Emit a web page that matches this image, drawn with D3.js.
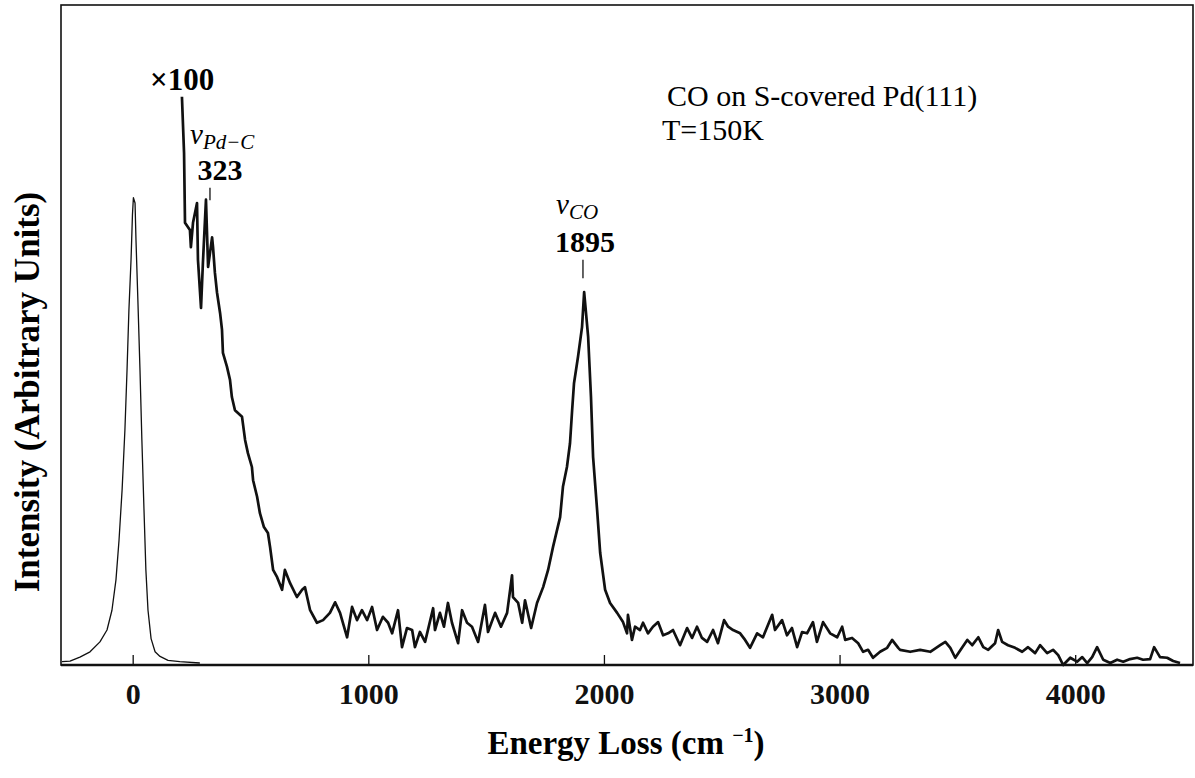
<!DOCTYPE html>
<html>
<head>
<meta charset="utf-8">
<script src="https://cdn.jsdelivr.net/npm/d3@7"></script>
<style>
  body { margin: 0; background: #fff; }
  svg { display: block; }
</style>
</head>
<body>
<div id="chart"></div>
<script>
// energy axis (cm^-1) and ticks
var energyDomain = [-300, 4500];
var xTicks = [0, 1000, 2000, 3000, 4000];

// elastic peak, x1
var elasticE = [-300, -266, -224, -181, -139, -109, -88, -71, -58, -45, -33, -24, -16, -7, -1, 3,
    10, 14, 22, 31, 39, 48, 56, 65, 78, 95, 116, 150, 200, 285];
var elasticI = [0.5, 0.6, 1.2, 2.0, 3.5, 5.3, 8.3, 12.9, 18.9, 26.5, 35.6, 44.7, 53.8, 61.4, 68.2, 70.8,
    70.0, 64.4, 55.3, 44.7, 34.1, 23.5, 14.4, 8.3, 4.0, 2.0, 1.3, 0.7, 0.5, 0.3];

// loss spectrum, x100
var lossE = [209, 218, 222, 243, 247, 256, 273, 277, 290, 298, 311, 320, 337, 341, 349, 358, 371, 379,
    383, 400, 413, 421, 434, 464, 477, 489, 506, 511, 528, 540, 557, 574, 583, 596, 613, 634, 646, 668,
    697, 719, 731, 753, 782, 808, 837, 859, 880, 910, 931, 952, 973, 995, 1016, 1037, 1062, 1084, 1101,
    1126, 1143, 1164, 1186, 1198, 1219, 1241, 1275, 1283, 1304, 1321, 1338, 1355, 1381, 1398, 1419,
    1440, 1466, 1495, 1508, 1538, 1563, 1589, 1610, 1614, 1636, 1653, 1665, 1691, 1716, 1742, 1763,
    1784, 1814, 1826, 1843, 1856, 1865, 1873, 1890, 1907, 1916, 1933, 1945, 1954, 1971, 1984, 2005,
    2026, 2056, 2081, 2098, 2102, 2119, 2132, 2153, 2166, 2187, 2208, 2230, 2251, 2272, 2293, 2323,
    2353, 2374, 2395, 2416, 2438, 2463, 2484, 2510, 2527, 2548, 2578, 2599, 2620, 2650, 2675, 2714,
    2726, 2756, 2777, 2798, 2820, 2841, 2862, 2887, 2904, 2930, 2960, 2990, 3011, 3024, 3053, 3079,
    3100, 3121, 3142, 3172, 3202, 3223, 3249, 3257, 3300, 3342, 3385, 3427, 3449, 3470, 3491, 3521,
    3542, 3563, 3589, 3610, 3631, 3660, 3673, 3690, 3715, 3745, 3775, 3800, 3830, 3851, 3881, 3906,
    3928, 3949, 3979, 4008, 4030, 4051, 4072, 4093, 4119, 4149, 4178, 4204, 4233, 4263, 4288, 4318,
    4335, 4360, 4390, 4416, 4445];
var lossI = [86.1, 77.6, 67.0, 65.9, 63.3, 67.0, 70.0, 61.4, 54.1, 60.9, 70.5, 60.3, 64.8, 63.3, 59.4,
    56.4, 53.3, 50.8, 47.3, 45.2, 43.2, 40.6, 38.6, 37.6, 34.1, 32.1, 30.0, 28.0, 25.5, 23.0, 20.9, 20.0,
    17.9, 14.4, 13.3, 11.4, 14.4, 12.4, 10.3, 11.4, 11.8, 8.3, 6.4, 6.8, 7.9, 9.5, 7.9, 4.2, 8.8, 6.8,
    8.3, 6.8, 8.8, 5.3, 7.3, 6.4, 4.8, 8.3, 2.7, 5.6, 5.3, 2.7, 5.0, 3.5, 8.6, 5.3, 7.9, 5.8, 9.4, 6.4,
    3.3, 8.3, 6.4, 5.8, 3.5, 9.1, 5.0, 7.9, 5.8, 7.9, 13.6, 10.3, 9.4, 6.4, 9.8, 5.6, 9.4, 11.8, 14.4,
    17.9, 22.4, 27.0, 30.0, 33.6, 38.6, 42.7, 46.7, 51.2, 56.5, 49.7, 40.6, 31.5, 23.5, 17.0, 11.4,
    9.4, 7.9, 6.5, 4.8, 7.6, 3.8, 5.8, 5.3, 6.4, 4.8, 5.8, 6.5, 4.5, 4.8, 5.3, 3.0, 5.6, 4.1, 5.8, 4.1,
    3.5, 5.3, 3.3, 6.8, 5.8, 5.3, 4.8, 3.8, 2.6, 4.8, 4.2, 7.6, 5.3, 6.8, 4.5, 5.6, 2.7, 5.0, 4.8, 6.5,
    3.5, 6.5, 4.8, 4.2, 5.8, 3.8, 4.1, 3.3, 2.0, 2.3, 1.1, 2.0, 2.6, 3.8, 2.6, 2.3, 2.0, 2.3, 2.0, 3.0,
    3.5, 2.6, 1.1, 2.7, 3.8, 3.0, 4.2, 2.7, 2.3, 3.3, 5.3, 3.5, 3.0, 2.6, 2.0, 2.7, 1.8, 3.0, 1.8, 2.3,
    1.5, 0.0, 1.1, 0.5, 1.2, 0.3, 1.2, 2.7, 0.8, 0.3, 0.8, 0.5, 0.9, 1.1, 0.8, 0.9, 2.7, 1.2, 1.1, 0.6,
    0.3];

var width = 1195,
    height = 778;

var serif = "'Liberation Serif', 'Times New Roman', serif";

var svg = d3.select("#chart")
    .append("svg")
    .attr("width", width)
    .attr("height", height);

var x = d3.scaleLinear().domain(energyDomain).range([62, 1193]);
var y = d3.scaleLinear().domain([0, 100]).range([665, 5]);

// frame
svg.append("rect")
    .attr("x", 61)
    .attr("y", 5)
    .attr("width", 1193 - 61)
    .attr("height", 665 - 5)
    .attr("fill", "none")
    .attr("stroke", "#111")
    .attr("stroke-width", 1.6);

svg.append("line")
    .attr("x1", 61).attr("x2", 1193)
    .attr("y1", 665).attr("y2", 665)
    .attr("stroke", "#111")
    .attr("stroke-width", 2.6);

// x axis, ticks pointing inward
var xAxis = svg.append("g")
    .attr("transform", "translate(0,665)")
    .call(d3.axisBottom(x).tickValues(xTicks).tickSizeInner(-10).tickSizeOuter(0).tickPadding(18)
        .tickFormat(d3.format("d")));
xAxis.select(".domain").remove();
xAxis.selectAll("line").attr("stroke", "#111").attr("stroke-width", 1.3);
xAxis.selectAll("text")
    .attr("fill", "#111")
    .style("font-family", serif)
    .style("font-weight", "bold")
    .style("font-size", "30px");

// spectra
var line = d3.line()
    .x(function(d) { return x(d[0]); })
    .y(function(d) { return y(d[1]); });

svg.append("path")
    .datum(d3.zip(elasticE, elasticI))
    .attr("d", line)
    .attr("fill", "none")
    .attr("stroke", "#111")
    .attr("stroke-width", 1.3)
    .attr("stroke-linejoin", "round");

svg.append("path")
    .datum(d3.zip(lossE, lossI))
    .attr("d", line)
    .attr("fill", "none")
    .attr("stroke", "#111")
    .attr("stroke-width", 2.7)
    .attr("stroke-linejoin", "round");

// peak markers
var markers = [
    {e: 328, top: 72.3, bottom: 70.4},
    {e: 1911, top: 61.4, bottom: 58.6}
];
svg.selectAll(".marker")
    .data(markers)
    .enter().append("line")
    .attr("class", "marker")
    .attr("x1", function(d) { return x(d.e); })
    .attr("x2", function(d) { return x(d.e); })
    .attr("y1", function(d) { return y(d.top); })
    .attr("y2", function(d) { return y(d.bottom); })
    .attr("stroke", "#111")
    .attr("stroke-width", 1.3);

// labels
svg.append("text")
    .attr("x", 150).attr("y", 90)
    .style("font-family", serif).style("font-weight", "bold").style("font-size", "31px")
    .text("\u00d7100");

var nuPd = svg.append("text")
    .attr("x", 190).attr("y", 144)
    .style("font-family", serif).style("font-style", "italic").style("font-size", "29px");
nuPd.append("tspan").text("\u03bd");
nuPd.append("tspan").attr("dy", 5).style("font-size", "21px").text("Pd\u2212C");

svg.append("text")
    .attr("x", 220).attr("y", 180)
    .attr("text-anchor", "middle")
    .style("font-family", serif).style("font-weight", "bold").style("font-size", "30px")
    .text("323");

var nuCO = svg.append("text")
    .attr("x", 556).attr("y", 214)
    .style("font-family", serif).style("font-style", "italic").style("font-size", "29px");
nuCO.append("tspan").text("\u03bd");
nuCO.append("tspan").attr("dy", 5).style("font-size", "21px").text("CO");

svg.append("text")
    .attr("x", 585).attr("y", 252)
    .attr("text-anchor", "middle")
    .style("font-family", serif).style("font-weight", "bold").style("font-size", "30px")
    .text("1895");

svg.append("text")
    .attr("x", 667).attr("y", 106)
    .style("font-family", serif).style("font-size", "30px")
    .text("CO on S-covered Pd(111)");

svg.append("text")
    .attr("x", 662).attr("y", 140)
    .style("font-family", serif).style("font-size", "30px")
    .text("T=150K");

// axis titles
var xTitle = svg.append("text")
    .attr("x", 626).attr("y", 754)
    .attr("text-anchor", "middle")
    .style("font-family", serif).style("font-weight", "bold").style("font-size", "33px");
xTitle.append("tspan").text("Energy Loss (cm ");
xTitle.append("tspan").attr("dy", -12).style("font-size", "20px").text("\u22121");
xTitle.append("tspan").attr("dy", 12).text(")");

svg.append("text")
    .attr("transform", "translate(39,392) rotate(-90)")
    .attr("text-anchor", "middle")
    .style("font-family", serif).style("font-weight", "bold").style("font-size", "35px")
    .text("Intensity (Arbitrary Units)");
</script>
</body>
</html>
